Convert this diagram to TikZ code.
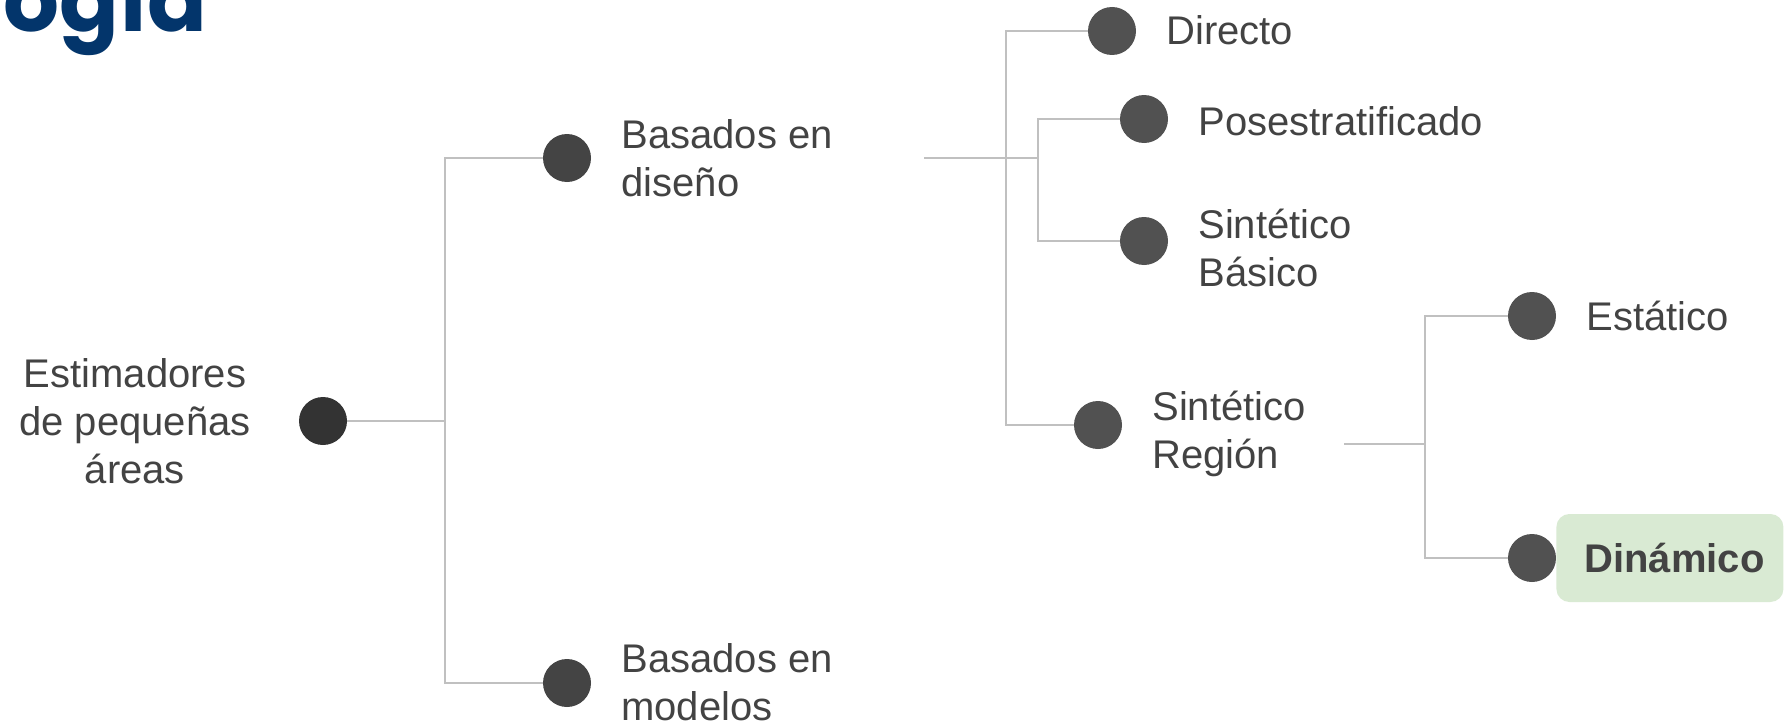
\documentclass[tikz,border=0pt]{standalone}
\usepackage{fontspec}
\setmainfont{Liberation Sans}
\newfontfamily\titlefont{Poppins}
\usepackage{tikz}
\usetikzlibrary{positioning}
\definecolor{txtgray}{HTML}{434343}
\definecolor{linegray}{HTML}{C0C0C0}
\definecolor{dotdark}{HTML}{333333}
\definecolor{dotmid}{HTML}{444444}
\definecolor{dotlight}{HTML}{515151}
\definecolor{titleblue}{HTML}{03356B}
\definecolor{hlgreen}{HTML}{D9EAD3}
\tikzset{>=stealth,
  dot/.style={circle,fill=dotlight,inner sep=0pt,minimum size=48pt},
  lbl/.style={text=txtgray,inner sep=0pt,align=left,font=\fontsize{40}{48}\selectfont},
  one/.style={lbl,text height=28pt,text depth=0pt},
  link/.style={draw=linegray,line width=2pt}}

\begin{document}
\begin{tikzpicture}[x=1pt,y=-1pt]
\useasboundingbox (0,0) rectangle (1785,725);
\clip (0,0) rectangle (1785,725);

\fill node[anchor=base west,inner sep=0pt,text=titleblue,font=\titlefont\bfseries\fontsize{88}{88}\selectfont] (title) at (3,32) {ogía};

\fill node[dot,fill=dotdark] (root) at (323,421) {};
\fill node[lbl,align=center,left=48pt of root] (root-l) {Estimadores\\de pequeñas\\áreas};

\fill node[dot,fill=dotmid] (dis) at (567,158) {};
\fill node[lbl,right=30pt of dis] (dis-l) {Basados en\\diseño};
\fill node[dot,fill=dotmid] (mod) at (567,683) {};
\fill node[lbl,right=30pt of mod,yshift=1pt] (mod-l) {Basados en\\modelos};

\fill node[dot] (dir) at (1112,31) {};
\fill node[one,right=30pt of dir] (dir-l) {Directo};
\fill node[dot] (pos) at (1144,119) {};
\fill node[one,right=30pt of pos,yshift=-2pt] (pos-l) {Posestratificado};
\fill node[dot] (sba) at (1144,241) {};
\fill node[lbl,right=30pt of sba,yshift=-7pt] (sba-l) {Sintético\\Básico};
\fill node[dot] (sre) at (1098,425) {};
\fill node[lbl,right=30pt of sre,yshift=-9pt] (sre-l) {Sintético\\Región};

\fill node[dot] (est) at (1532,316) {};
\fill node[one,right=30pt of est] (est-l) {Estático};
\fill node[dot] (din) at (1532,558) {};
\fill node[one,right=0pt of din,fill=hlgreen,rounded corners=13pt,inner xsep=28pt,
  minimum height=88pt,text width=171pt,font=\fontsize{40}{48}\selectfont\bfseries] (din-l) {Dinámico};

% ramas
\coordinate (j1) at (445,421);
\draw[link] (root) -- (j1);
\draw[link] (j1) |- (dis);
\draw[link] (j1) |- (mod);

\coordinate (d0) at (924,158);
\coordinate (j2) at (1006,158);
\coordinate (j3) at (1038,158);
\draw[link] (d0) -- (j3);
\draw[link] (j2) |- (dir);
\draw[link] (j2) |- (sre);
\draw[link] (j3) |- (pos);
\draw[link] (j3) |- (sba);

\coordinate (r0) at (1344,444);
\coordinate (j4) at (1425,444);
\draw[link] (r0) -- (j4);
\draw[link] (j4) |- (est);
\draw[link] (j4) |- (din);
\end{tikzpicture}
\end{document}
